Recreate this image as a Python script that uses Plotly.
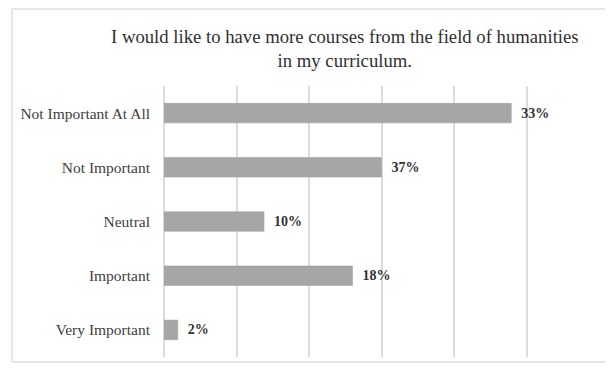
import plotly.graph_objects as go

categories = ["Not Important At All", "Not Important", "Neutral", "Important", "Very Important"]
bar_values = [0.479, 0.300, 0.138, 0.260, 0.019]
value_labels = ["33%", "37%", "10%", "18%", "2%"]
title_text = "I would like to have more courses from the field of humanities<br>in my curriculum."

W, H = 605, 365
L, R, T, B = 153, 14, 78, 16
pw, ph = W - L - R, H - T - B

fig = go.Figure(go.Bar(
    y=categories, x=bar_values, orientation="h",
    marker=dict(color="#a6a6a6", line=dict(color="#9a9a9a", width=0.5)),
    text=["\u00a0\u00a0<b>%s</b>" % t for t in value_labels], textposition="outside",
    textfont=dict(family="Liberation Serif", size=14, color="#333333"),
    cliponaxis=False,
))

fig.update_layout(
    width=W, height=H,
    margin=dict(l=L, r=R, t=T, b=B),
    paper_bgcolor="white", plot_bgcolor="white",
    showlegend=False, bargap=0.64,
    font=dict(family="Liberation Serif", color="#404040"),
    xaxis=dict(range=[0, 0.6], dtick=0.1, showticklabels=False, showgrid=True,
               gridcolor="#dcdcdc", gridwidth=1.5, zeroline=True, zerolinecolor="#dcdcdc",
               zerolinewidth=1.5, fixedrange=True),
    yaxis=dict(autorange="reversed", tickfont=dict(size=15.5, color="#404040"),
               ticks="", ticklen=0, ticklabelstandoff=13, showline=False, fixedrange=True),
    annotations=[dict(text=title_text, xref="paper", yref="paper", x=(335 - L) / pw,
                      y=1, yshift=13, xanchor="center", yanchor="bottom", showarrow=False,
                      font=dict(family="Liberation Serif", size=18.7, color="#303030"))],
    shapes=[dict(type="rect", xref="paper", yref="paper",
                 x0=-L / pw, x1=1 + 12 / pw, y0=-5 / ph, y1=1 + 77 / ph,
                 line=dict(color="#e0e0e0", width=1.5))],
)

fig.write_html("out.html")
